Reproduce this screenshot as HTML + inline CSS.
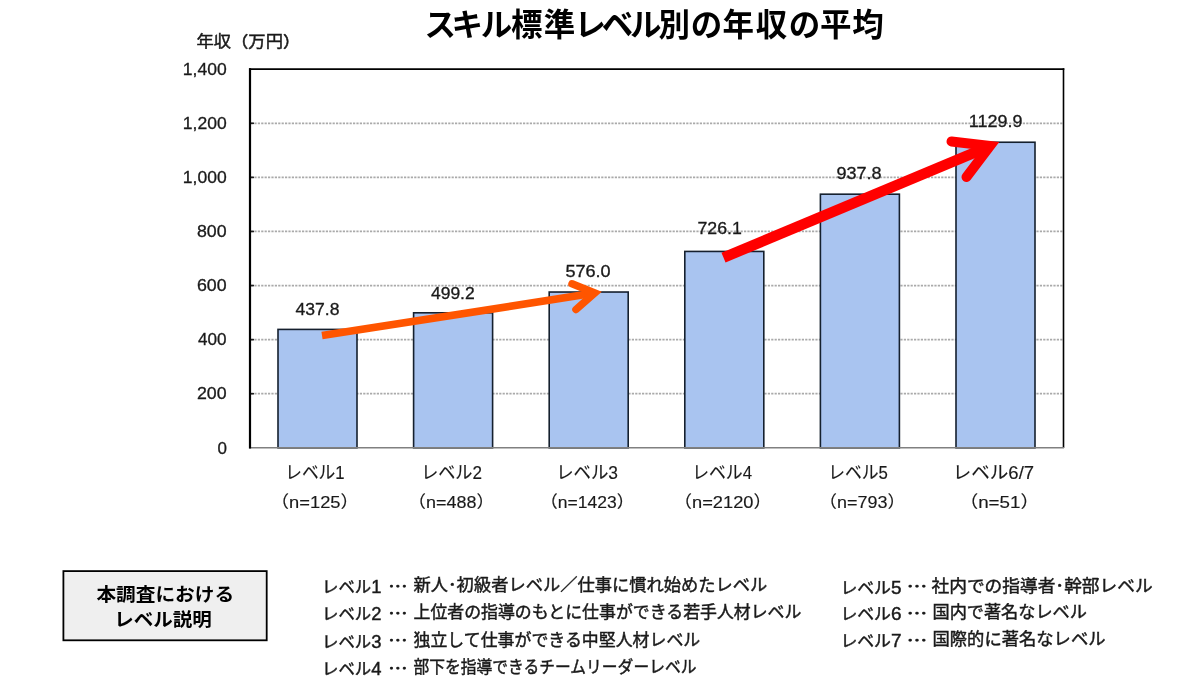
<!DOCTYPE html>
<html lang="ja"><head><meta charset="utf-8"><title>スキル標準レベル別の年収の平均</title>
<style>
html,body{margin:0;padding:0;background:#fff;}
body{width:1200px;height:688px;overflow:hidden;position:relative;}
svg{position:absolute;left:0;top:0;}
text{font-family:"Liberation Sans","Noto Sans CJK JP",sans-serif;fill:#1a1a1a;}
.t{stroke:#1a1a1a;stroke-width:0.45;}
.t2{stroke:#1a1a1a;stroke-width:0.15;}
.t3{stroke:#1a1a1a;stroke-width:0.3;}
.dots{font-family:"Noto Sans CJK JP",sans-serif;stroke:#1a1a1a;stroke-width:0.6;}
.grid{stroke:#aaaaaa;stroke-width:1.7;stroke-dasharray:2.2 1.2;}
.bar{fill:#A9C4F0;stroke:#15202e;stroke-width:1.6;}
.oa{stroke:#FF5500;stroke-width:7.6;fill:none;stroke-linecap:butt;}
.oh{stroke:#FF5500;stroke-width:7.5;fill:none;stroke-linecap:round;stroke-linejoin:miter;}
.ra{stroke:#FF0000;stroke-width:10.6;fill:none;stroke-linecap:butt;}
.rh{stroke:#FF0000;stroke-width:10;fill:none;stroke-linecap:round;stroke-linejoin:miter;}
.title{font-size:31.5px;font-weight:bold;fill:#000;}
.tb{fill:#000;}

</style></head><body>
<svg width="1200" height="688" viewBox="0 0 1200 688">
<text x="440.20" y="35.8" class="title" text-anchor="middle">ス</text>
<text x="467.20" y="35.8" class="title" text-anchor="middle">キ</text>
<text x="496.50" y="35.8" class="title" text-anchor="middle">ル</text>
<text x="526.80" y="35.8" class="title" text-anchor="middle">標</text>
<text x="559.40" y="35.8" class="title" text-anchor="middle">準</text>
<text x="590.20" y="35.8" class="title" text-anchor="middle">レ</text>
<text x="617.60" y="35.8" class="title" text-anchor="middle">ベ</text>
<text x="645.70" y="35.8" class="title" text-anchor="middle">ル</text>
<text x="674.20" y="35.8" class="title" text-anchor="middle">別</text>
<text x="706.40" y="35.8" class="title" text-anchor="middle">の</text>
<text x="738.20" y="35.8" class="title" text-anchor="middle">年</text>
<text x="771.60" y="35.8" class="title" text-anchor="middle">収</text>
<text x="804.50" y="35.8" class="title" text-anchor="middle">の</text>
<text x="835.70" y="35.8" class="title" text-anchor="middle">平</text>
<text x="868.00" y="35.8" class="title" text-anchor="middle">均</text>
<line x1="251" x2="1063" y1="393.71" y2="393.71" class="grid"/>
<line x1="251" x2="1063" y1="339.63" y2="339.63" class="grid"/>
<line x1="251" x2="1063" y1="285.54" y2="285.54" class="grid"/>
<line x1="251" x2="1063" y1="231.46" y2="231.46" class="grid"/>
<line x1="251" x2="1063" y1="177.37" y2="177.37" class="grid"/>
<line x1="251" x2="1063" y1="123.29" y2="123.29" class="grid"/>
<line x1="250" x2="254" y1="393.71" y2="393.71" stroke="#222" stroke-width="1.6"/>
<line x1="250" x2="254" y1="339.63" y2="339.63" stroke="#222" stroke-width="1.6"/>
<line x1="250" x2="254" y1="285.54" y2="285.54" stroke="#222" stroke-width="1.6"/>
<line x1="250" x2="254" y1="231.46" y2="231.46" stroke="#222" stroke-width="1.6"/>
<line x1="250" x2="254" y1="177.37" y2="177.37" stroke="#222" stroke-width="1.6"/>
<line x1="250" x2="254" y1="123.29" y2="123.29" stroke="#222" stroke-width="1.6"/>
<rect x="278.00" y="329.41" width="79" height="118.39" class="bar"/>
<rect x="413.60" y="312.80" width="79" height="135.00" class="bar"/>
<rect x="549.20" y="292.03" width="79" height="155.77" class="bar"/>
<rect x="684.80" y="251.44" width="79" height="196.36" class="bar"/>
<rect x="820.40" y="194.19" width="79" height="253.61" class="bar"/>
<rect x="956.00" y="142.24" width="79" height="305.56" class="bar"/>
<line x1="249" x2="1064.3" y1="69.2" y2="69.2" stroke="#000" stroke-width="1.7"/>
<line x1="1063.5" x2="1063.5" y1="68.2" y2="448" stroke="#000" stroke-width="1.6"/>
<line x1="249" x2="1064" y1="447.8" y2="447.8" stroke="#808080" stroke-width="1.6"/>
<line x1="250" x2="250" y1="68.2" y2="448.5" stroke="#000" stroke-width="2.2"/>
<line x1="322" y1="335.6" x2="594.8" y2="293.1" class="oa"/>
<polyline points="572,283.8 594.8,292.9 576,309.5" class="oh"/>
<line x1="723.5" y1="257.6" x2="990" y2="146.1" class="ra"/>
<polyline points="951.5,141.5 990,146 966.5,177" class="rh"/>
<rect x="63.4" y="571.1" width="203.3" height="69.2" fill="#EFEFEF" stroke="#000" stroke-width="1.8"/>
<text id="ylab" x="196.44" y="46.50" font-size="15.80" textLength="103.85" lengthAdjust="spacingAndGlyphs" class="t">年収（万円）</text>
<text id="yt0" x="217.45" y="454.20" font-size="16.50" textLength="9.46" lengthAdjust="spacingAndGlyphs" class="t3">0</text>
<text id="yt200" x="196.92" y="399.20" font-size="16.50" textLength="29.65" lengthAdjust="spacingAndGlyphs" class="t3">200</text>
<text id="yt400" x="198.00" y="345.20" font-size="16.50" textLength="28.55" lengthAdjust="spacingAndGlyphs" class="t3">400</text>
<text id="yt600" x="196.92" y="291.40" font-size="16.50" textLength="29.65" lengthAdjust="spacingAndGlyphs" class="t3">600</text>
<text id="yt800" x="196.92" y="236.60" font-size="16.50" textLength="29.65" lengthAdjust="spacingAndGlyphs" class="t3">800</text>
<text id="yt1000" x="182.89" y="182.80" font-size="16.50" textLength="43.84" lengthAdjust="spacingAndGlyphs" class="t3">1,000</text>
<text id="yt1200" x="182.89" y="128.80" font-size="16.50" textLength="43.84" lengthAdjust="spacingAndGlyphs" class="t3">1,200</text>
<text id="yt1400" x="182.89" y="75.00" font-size="16.50" textLength="43.84" lengthAdjust="spacingAndGlyphs" class="t3">1,400</text>
<text id="v0" x="295.46" y="315.00" font-size="16.00" textLength="43.96" lengthAdjust="spacingAndGlyphs" class="t3">437.8</text>
<text id="v1" x="430.94" y="298.50" font-size="16.00" textLength="43.75" lengthAdjust="spacingAndGlyphs" class="t3">499.2</text>
<text id="v2" x="565.42" y="277.00" font-size="16.00" textLength="45.20" lengthAdjust="spacingAndGlyphs" class="t3">576.0</text>
<text id="v3" x="697.41" y="233.50" font-size="16.00" textLength="44.40" lengthAdjust="spacingAndGlyphs" class="t3">726.1</text>
<text id="v4" x="836.40" y="179.00" font-size="16.00" textLength="45.20" lengthAdjust="spacingAndGlyphs" class="t3">937.8</text>
<text id="v5" x="968.83" y="127.00" font-size="16.00" textLength="53.57" lengthAdjust="spacingAndGlyphs" class="t3">1129.9</text>
<text id="c0" x="285.28" y="479.00" font-size="18.00" textLength="59.26" lengthAdjust="spacingAndGlyphs" class="t2">レベル1</text>
<text id="c1" x="421.20" y="479.00" font-size="18.00" textLength="60.76" lengthAdjust="spacingAndGlyphs" class="t2">レベル2</text>
<text id="c2" x="556.14" y="479.00" font-size="18.00" textLength="61.85" lengthAdjust="spacingAndGlyphs" class="t2">レベル3</text>
<text id="c3" x="692.27" y="479.00" font-size="18.00" textLength="59.75" lengthAdjust="spacingAndGlyphs" class="t2">レベル4</text>
<text id="c4" x="828.27" y="479.00" font-size="18.00" textLength="59.68" lengthAdjust="spacingAndGlyphs" class="t2">レベル5</text>
<text id="c5" x="952.88" y="479.00" font-size="18.00" textLength="81.18" lengthAdjust="spacingAndGlyphs" class="t2">レベル6/7</text>
<text id="n0" x="270.79" y="508.00" font-size="16.50" textLength="88.01" lengthAdjust="spacingAndGlyphs" class="t2">（n=125）</text>
<text id="n1" x="408.04" y="508.00" font-size="16.50" textLength="86.30" lengthAdjust="spacingAndGlyphs" class="t2">（n=488）</text>
<text id="n2" x="540.33" y="508.00" font-size="16.50" textLength="93.90" lengthAdjust="spacingAndGlyphs" class="t2">（n=1423）</text>
<text id="n3" x="673.80" y="508.00" font-size="16.50" textLength="97.96" lengthAdjust="spacingAndGlyphs" class="t2">（n=2120）</text>
<text id="n4" x="819.04" y="508.00" font-size="16.50" textLength="86.30" lengthAdjust="spacingAndGlyphs" class="t2">（n=793）</text>
<text id="n5" x="959.43" y="508.00" font-size="16.50" textLength="79.76" lengthAdjust="spacingAndGlyphs" class="t2">（n=51）</text>
<text id="lb1" x="96.46" y="601.00" font-size="18.50" font-weight="bold" textLength="137.68" lengthAdjust="spacingAndGlyphs" class="tb">本調査における</text>
<text id="lb2" x="114.32" y="626.00" font-size="18.50" font-weight="bold" textLength="97.57" lengthAdjust="spacingAndGlyphs" class="tb">レベル説明</text>
<text id="la0" x="322.02" y="593.00" font-size="16.50" textLength="59.36" lengthAdjust="spacingAndGlyphs" class="t">レベル<tspan font-size="18.50">1</tspan></text>
<text id="ld0" x="388.23" y="593.40" font-size="17.00" textLength="19.29" lengthAdjust="spacingAndGlyphs" class="dots">…</text>
<text id="lt0" x="413.49" y="591.00" font-size="17.00" textLength="353.73" lengthAdjust="spacingAndGlyphs" class="t">新人･初級者レベル／仕事に慣れ始めたレベル</text>
<text id="la1" x="322.02" y="620.00" font-size="16.50" textLength="59.36" lengthAdjust="spacingAndGlyphs" class="t">レベル<tspan font-size="18.50">2</tspan></text>
<text id="ld1" x="388.23" y="619.60" font-size="17.00" textLength="19.29" lengthAdjust="spacingAndGlyphs" class="dots">…</text>
<text id="lt1" x="413.50" y="618.00" font-size="17.00" textLength="387.92" lengthAdjust="spacingAndGlyphs" class="t">上位者の指導のもとに仕事ができる若手人材レベル</text>
<text id="la2" x="322.02" y="647.50" font-size="16.50" textLength="59.36" lengthAdjust="spacingAndGlyphs" class="t">レベル<tspan font-size="18.50">3</tspan></text>
<text id="ld2" x="388.23" y="647.10" font-size="17.00" textLength="19.29" lengthAdjust="spacingAndGlyphs" class="dots">…</text>
<text id="lt2" x="413.50" y="645.50" font-size="17.00" textLength="286.76" lengthAdjust="spacingAndGlyphs" class="t">独立して仕事ができる中堅人材レベル</text>
<text id="la3" x="322.02" y="675.00" font-size="16.50" textLength="59.36" lengthAdjust="spacingAndGlyphs" class="t">レベル<tspan font-size="18.50">4</tspan></text>
<text id="ld3" x="388.23" y="675.40" font-size="17.00" textLength="19.29" lengthAdjust="spacingAndGlyphs" class="dots">…</text>
<text id="lt3" x="413.55" y="673.00" font-size="17.00" textLength="282.87" lengthAdjust="spacingAndGlyphs" class="t">部下を指導できるチームリーダーレベル</text>
<text id="ra0" x="840.40" y="593.50" font-size="16.50" textLength="61.12" lengthAdjust="spacingAndGlyphs" class="t">レベル<tspan font-size="18.50">5</tspan></text>
<text id="rd0" x="906.67" y="593.10" font-size="17.00" textLength="20.50" lengthAdjust="spacingAndGlyphs" class="dots">…</text>
<text id="rt0" x="931.50" y="591.50" font-size="17.00" textLength="221.13" lengthAdjust="spacingAndGlyphs" class="t">社内での指導者･幹部レベル</text>
<text id="ra1" x="840.40" y="620.00" font-size="16.50" textLength="61.12" lengthAdjust="spacingAndGlyphs" class="t">レベル<tspan font-size="18.50">6</tspan></text>
<text id="rd1" x="906.67" y="619.60" font-size="17.00" textLength="20.50" lengthAdjust="spacingAndGlyphs" class="dots">…</text>
<text id="rt1" x="932.49" y="618.00" font-size="17.00" textLength="154.42" lengthAdjust="spacingAndGlyphs" class="t">国内で著名なレベル</text>
<text id="ra2" x="840.40" y="646.50" font-size="16.50" textLength="61.12" lengthAdjust="spacingAndGlyphs" class="t">レベル<tspan font-size="18.50">7</tspan></text>
<text id="rd2" x="906.67" y="646.70" font-size="17.00" textLength="20.50" lengthAdjust="spacingAndGlyphs" class="dots">…</text>
<text id="rt2" x="932.49" y="644.50" font-size="17.00" textLength="173.04" lengthAdjust="spacingAndGlyphs" class="t">国際的に著名なレベル</text>
</svg>
</body></html>
